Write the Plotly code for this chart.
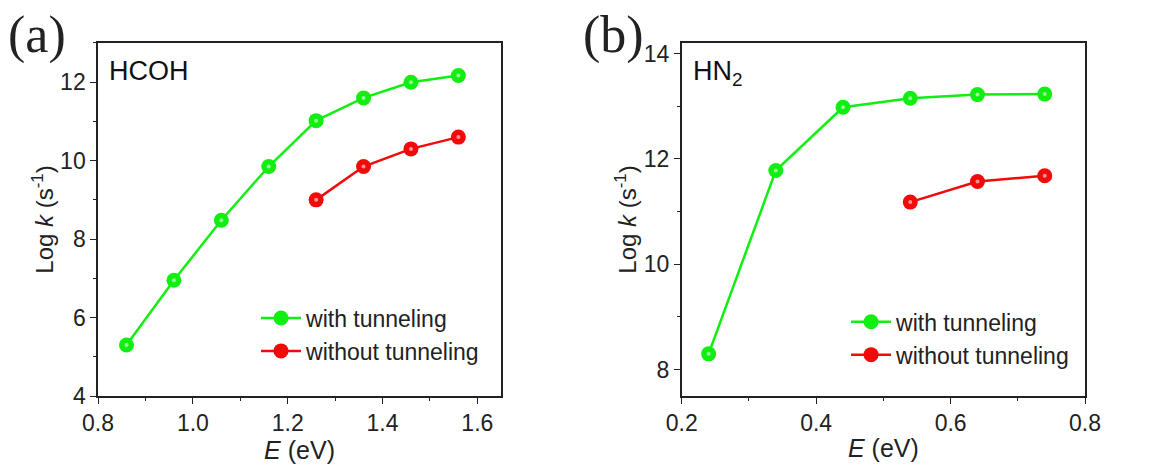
import plotly.graph_objects as go

# Panel (a) HCOH
a_E_tun = [0.86, 0.96, 1.06, 1.16, 1.26, 1.36, 1.46, 1.56]
a_logk_tun = [5.30, 6.95, 8.48, 9.85, 11.02, 11.60, 12.00, 12.17]
a_E_notun = [1.26, 1.36, 1.46, 1.56]
a_logk_notun = [9.00, 9.85, 10.30, 10.60]

# Panel (b) HN2
b_E_tun = [0.24, 0.34, 0.44, 0.54, 0.64, 0.74]
b_logk_tun = [8.30, 11.78, 12.98, 13.15, 13.22, 13.23]
b_E_notun = [0.54, 0.64, 0.74]
b_logk_notun = [11.18, 11.57, 11.68]

series_names = ["with tunneling", "without tunneling"]
GREEN = "#11ee11"
RED = "#f20a0a"
FONT = "Arial"

fig = go.Figure()

def add(x, y, name, color, xa, ya, legend):
    fig.add_trace(go.Scatter(
        x=x, y=y, mode="lines+markers", name=name,
        line=dict(color=color, width=2.5),
        marker=dict(size=15, color=color, line=dict(width=0)),
        xaxis=xa, yaxis=ya, legend=legend))
    # small sphere highlight
    fig.add_trace(go.Scatter(
        x=x, y=y, mode="markers", showlegend=False, hoverinfo="skip",
        marker=dict(size=4, color="rgba(255,255,255,0.55)", line=dict(width=0)),
        xaxis=xa, yaxis=ya))

add(a_E_tun, a_logk_tun, series_names[0], GREEN, "x", "y", "legend")
add(a_E_notun, a_logk_notun, series_names[1], RED, "x", "y", "legend")
add(b_E_tun, b_logk_tun, series_names[0], GREEN, "x2", "y2", "legend2")
add(b_E_notun, b_logk_notun, series_names[1], RED, "x2", "y2", "legend2")

def axis(**kw):
    d = dict(
        showline=True, linecolor="#222", linewidth=1.5, mirror=True,
        ticks="outside", ticklen=6, tickwidth=1.3, tickcolor="#222",
        showgrid=False, zeroline=False, automargin=False,
        tickfont=dict(family=FONT, size=23, color="#222"),
    )
    d.update(kw)
    return d

minor = dict(ticks="outside", ticklen=3, tickwidth=1.1, tickcolor="#222", showgrid=False)
XTITLE_FONT = dict(family=FONT, size=25, color="#222")
YTITLE_FONT = dict(family=FONT, size=24, color="#222")

fig.update_layout(
    width=1159, height=467,
    margin=dict(l=0, r=0, t=0, b=0, autoexpand=False),
    paper_bgcolor="white", plot_bgcolor="white",
    xaxis=axis(domain=[0.0846, 0.4323], range=[0.8, 1.65], dtick=0.2, tickformat=".1f",
               minor=dict(dtick=0.1, **minor), anchor="y",
               title=dict(text="<i>E</i> (eV)", standoff=4, font=XTITLE_FONT)),
    yaxis=axis(domain=[0.152, 0.908], range=[4, 13], dtick=2,
               minor=dict(dtick=1, **minor), anchor="x",
               title=dict(text="Log <i>k</i> (s<sup>-1</sup>)", standoff=0, font=YTITLE_FONT)),
    xaxis2=axis(domain=[0.5882, 0.9362], range=[0.2, 0.8], dtick=0.2, tickformat=".1f",
                minor=dict(dtick=0.1, **minor), anchor="y2",
                title=dict(text="<i>E</i> (eV)", standoff=4, font=XTITLE_FONT)),
    yaxis2=axis(domain=[0.152, 0.908], range=[7.5, 14.2], dtick=2,
                minor=dict(dtick=1, **minor), anchor="x2",
                title=dict(text="Log <i>k</i> (s<sup>-1</sup>)", standoff=0, font=YTITLE_FONT)),
    legend=dict(x=0.2209, y=0.365, xanchor="left", yanchor="top",
                font=dict(family=FONT, size=23, color="#222"),
                bgcolor="rgba(0,0,0,0)", tracegroupgap=0, itemwidth=40),
    legend2=dict(x=0.730, y=0.357, xanchor="left", yanchor="top",
                 font=dict(family=FONT, size=23, color="#222"),
                 bgcolor="rgba(0,0,0,0)", tracegroupgap=0, itemwidth=40),
)

fig.add_annotation(text="(a)", x=0.005, y=1.0, xref="paper", yref="paper",
                   xanchor="left", yanchor="top", yshift=-4, showarrow=False,
                   font=dict(family="Times New Roman", size=52, color="#222"))
fig.add_annotation(text="(b)", x=0.501, y=1.0, xref="paper", yref="paper",
                   xanchor="left", yanchor="top", yshift=-4, showarrow=False,
                   font=dict(family="Times New Roman", size=52, color="#222"))
fig.add_annotation(text="HCOH", x=0.0, y=1.0, xref="x domain", yref="y domain",
                   xshift=9, yshift=-11, xanchor="left", yanchor="top", showarrow=False,
                   font=dict(family=FONT, size=27, color="#111"))
fig.add_annotation(text="HN<sub>2</sub>", x=0.0, y=1.0, xref="x2 domain", yref="y2 domain",
                   xshift=9, yshift=-11, xanchor="left", yanchor="top", showarrow=False,
                   font=dict(family=FONT, size=27, color="#111"))

fig.write_html("out.html")
